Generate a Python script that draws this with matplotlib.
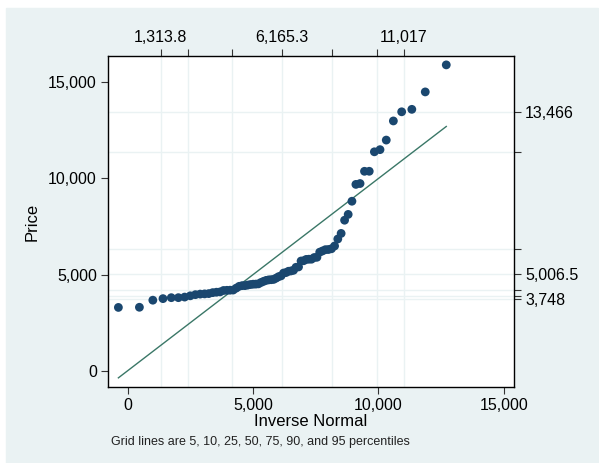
import numpy as np
import matplotlib.pyplot as plt
from matplotlib.patches import Rectangle
from statistics import NormalDist

# auto.dta price values
price = [4099, 4749, 3799, 4816, 7827, 5788, 4453, 5189, 10372, 4082,
         11385, 14500, 15906, 3299, 5705, 4504, 5104, 3667, 3955, 3984,
         4010, 5886, 6342, 4389, 4187, 11497, 13594, 13466, 3829, 5379,
         6165, 4516, 6303, 3291, 8814, 5172, 4733, 4890, 4181, 4195,
         10371, 4647, 4425, 4482, 6486, 4060, 5798, 4934, 5222, 4723,
         4424, 4172, 9690, 6295, 9735, 6229, 4589, 5079, 8129, 5799,
         4499, 3995, 12990, 3895, 3798, 5899, 3748, 5719, 7140, 5397,
         4697, 6850, 11995, 4296]

pct = [5, 10, 25, 50, 75, 90, 95]
top_labels = {5: '1,313.8', 50: '6,165.3', 95: '11,017'}
right_labels = {5: '3,748', 50: '5,006.5', 95: '13,466'}
x_ticks = [0, 5000, 10000, 15000]
y_ticks = [0, 5000, 10000, 15000]

y = np.sort(np.array(price, dtype=float))
n = len(y)
mu, sd = y.mean(), y.std(ddof=1)
nd = NormalDist(mu, sd)
x = np.array([nd.inv_cdf(i / (n + 1)) for i in range(1, n + 1)])

xq = [nd.inv_cdf(p / 100) for p in pct]
yq = list(np.percentile(y, pct, method='averaged_inverted_cdf'))

plt.rcParams['font.family'] = ['Liberation Sans', 'DejaVu Sans']

fig = plt.figure(figsize=(5.99, 4.63), dpi=100)
fig.patches.append(Rectangle((6 / 599, 0), 592 / 599, 455 / 463,
                             transform=fig.transFigure, color='#eaf2f3', zorder=-10))
ax = fig.add_axes([108 / 599, 1 - 387 / 463, 406 / 599, 331 / 463])
ax.set_facecolor('white')

grid_c = '#eaf2f3'
for v in xq:
    ax.axvline(v, color=grid_c, lw=1.0, zorder=0)
for v in yq:
    ax.axhline(v, color=grid_c, lw=1.0, zorder=0)

ax.plot([x[0], x[-1]], [x[0], x[-1]], color='#3a7767', lw=1.0, zorder=2)
ax.scatter(x, y, s=40, color='#1a476f', edgecolors='none', zorder=3)

ax.set_xlim(-786, 15403)
ax.set_ylim(-848, 16368)
ax.set_xticks(x_ticks)
ax.set_xticklabels(['0', '5,000', '10,000', '15,000'])
ax.set_yticks(y_ticks)
ax.set_yticklabels(['0', '5,000', '10,000', '15,000'])
ax.tick_params(labelsize=11.5, length=5, width=0.8, color='#333333', pad=3)

for s in ['top', 'right']:
    ax.spines[s].set_visible(False)
for s in ['left', 'bottom']:
    ax.spines[s].set_linewidth(1.0)

top = ax.secondary_xaxis('top')
top.set_xticks(xq)
top.set_xticklabels([top_labels.get(p, '') for p in pct])
top.tick_params(labelsize=11.5, length=5, width=0.8, color='#333333', pad=3)
top.spines['top'].set_linewidth(1.0)

right = ax.secondary_yaxis('right')
right.set_yticks(yq)
right.set_yticklabels([right_labels.get(p, '') for p in pct])
right.tick_params(labelsize=11.5, length=5, width=0.8, color='#333333', pad=3)
right.spines['right'].set_linewidth(1.0)

ax.set_xlabel('Inverse Normal', fontsize=12, labelpad=1)
ax.set_ylabel('Price', fontsize=12, labelpad=6)

fig.text(111 / 599, 1 - 442 / 463, 'Grid lines are 5, 10, 25, 50, 75, 90, and 95 percentiles',
         fontsize=9, va='center', ha='left', color='#222222')

fig.savefig('out.png', dpi=100, facecolor='white')
